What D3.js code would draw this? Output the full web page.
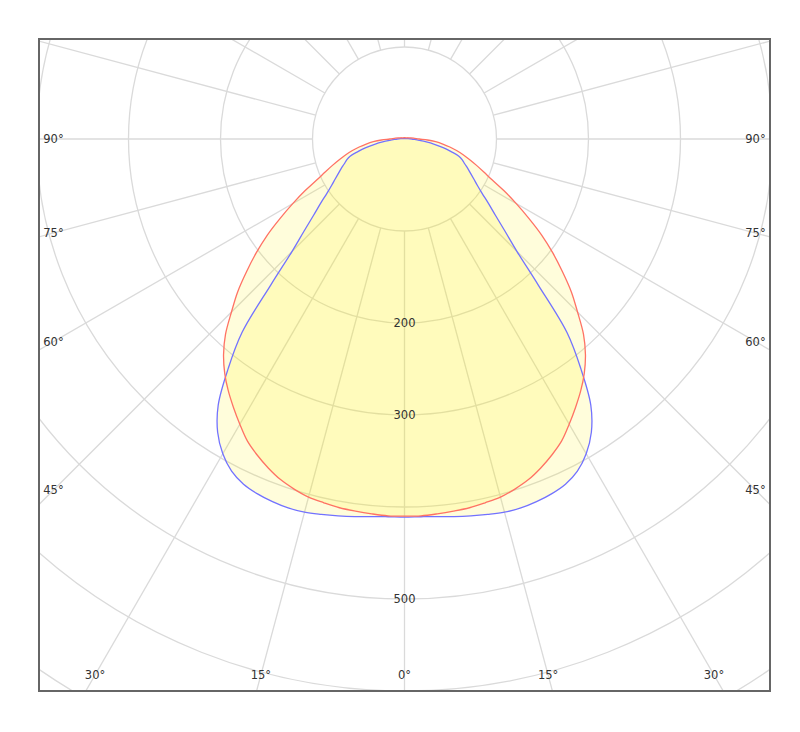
<!DOCTYPE html>
<html>
<head>
<meta charset="utf-8">
<script src="https://cdn.jsdelivr.net/npm/d3@7"></script>
<style>
  body { margin: 0; background: #fff; }
  svg text { font-family: "DejaVu Sans", sans-serif; font-size: 11.5px; fill: #333; }
</style>
</head>
<body>
<div id="chart"></div>
<script>
// gamma angles (deg from nadir) and intensities
const angles = [0, 2.5, 5, 7.5, 10, 12.5, 15, 17.5, 20, 22.5, 25, 27.5, 30, 32.5, 35, 37.5, 40, 42.5, 45, 47.5,
  50, 52.5, 55, 57.5, 60, 62.5, 65, 67.5, 70, 72.5, 75, 77.5, 80, 82.5, 85, 87.5, 90,
  95, 100, 105, 110, 120, 135, 150, 165, 180]
const redValues = [410, 410, 409, 408, 407, 405, 403, 399, 394, 387, 379, 370, 358, 346, 334, 321, 306, 288, 266, 246,
  224, 203, 182, 160, 140, 122, 105, 93, 83, 74, 66, 58, 50, 42, 34, 25, 16,
  10, 7, 5, 4, 2.5, 2, 1.5, 1.5, 1.5]
const blueValues = [411, 411, 412, 414, 416, 418, 420, 420.5, 419.5, 417.5, 414, 407, 395, 378, 353, 315, 275, 215, 173, 148,
  129, 115, 103, 94, 87, 81, 76, 71, 67, 62, 52, 43, 33, 24, 16, 11, 8,
  4, 2, 1.5, 1, 1, 0.5, 0.5, 0.5, 0.5]

const ringValues = [100, 200, 300, 400, 500, 600, 700, 800]
const spokeAngles = [0, 15, 30, 45, 60, 75, 90, 105, 120, 135, 150, 165, 180, 195, 210, 225, 240, 255, 270, 285, 300, 315, 330, 345]
const angleTicks = [0, 15, 30, 45, 60, 75, 90]
const radiusTicks = [200, 300, 500]

document.addEventListener("DOMContentLoaded", () => {
  const config = {
    "w": 800,
    "h": 732,
    "left": 39,
    "top": 39,
    "right": 770,
    "bottom": 691,
    "cx": 404.5,
    "cy": 139,
  }

  const r_scale = d3.scaleLinear()
                    .domain([0, 800])
                    .range([0, 736])

  const svg = d3.select("#chart")
                .append("svg")
                .attr("width", config.w)
                .attr("height", config.h)

  svg.append("clipPath")
     .attr("id", "frame-clip")
     .append("rect")
     .attr("x", config.left)
     .attr("y", config.top)
     .attr("width", config.right - config.left)
     .attr("height", config.bottom - config.top)

  const plot = svg.append("g")
                  .attr("clip-path", "url(#frame-clip)")
  const g = plot.append("g")
                .attr("transform", "translate(" + config.cx + "," + config.cy + ")")

  // grid: rings and spokes (spokes start at the first ring)
  g.selectAll("circle.ring")
   .data(ringValues)
   .enter()
   .append("circle")
   .attr("class", "ring")
   .attr("r", d => r_scale(d))
   .attr("fill", "none")
   .attr("stroke", "#dadada")
   .attr("stroke-width", 1.3)

  g.selectAll("line.spoke")
   .data(spokeAngles)
   .enter()
   .append("line")
   .attr("class", "spoke")
   .attr("x1", d => r_scale(100) * Math.sin(d * Math.PI / 180))
   .attr("y1", d => r_scale(100) * Math.cos(d * Math.PI / 180))
   .attr("x2", d => r_scale(800) * Math.sin(d * Math.PI / 180))
   .attr("y2", d => r_scale(800) * Math.cos(d * Math.PI / 180))
   .attr("stroke", "#dadada")
   .attr("stroke-width", 1.3)

  // mirror one half-plane into a closed loop; d3 angle 0 = up, so nadir = PI
  const toLoop = values => {
    const pts = []
    for (let i = angles.length - 1; i >= 0; i--) {
      pts.push({ a: Math.PI + angles[i] * Math.PI / 180, r: values[i] })
    }
    for (let i = 1; i < angles.length - 1; i++) {
      pts.push({ a: Math.PI - angles[i] * Math.PI / 180, r: values[i] })
    }
    return pts
  }

  const radial = d3.lineRadial()
                   .angle(d => d.a)
                   .radius(d => r_scale(d.r))
                   .curve(d3.curveCatmullRomClosed.alpha(0.5))

  const series = [
    { name: "C90-C270", values: blueValues, stroke: "#7272ff" },
    { name: "C0-C180", values: redValues, stroke: "#ff7264" },
  ]

  g.selectAll("path.fill")
   .data(series)
   .enter()
   .append("path")
   .attr("class", "fill")
   .attr("d", d => radial(toLoop(d.values)))
   .attr("fill", "#fff000")
   .attr("fill-opacity", 0.14)
   .attr("stroke", "none")

  g.selectAll("path.outline")
   .data(series)
   .enter()
   .append("path")
   .attr("class", "outline")
   .attr("d", d => radial(toLoop(d.values)))
   .attr("fill", "none")
   .attr("stroke", d => d.stroke)
   .attr("stroke-width", 1.3)

  // radius labels on the nadir line
  g.selectAll("text.rlabel")
   .data(radiusTicks)
   .enter()
   .append("text")
   .attr("class", "rlabel")
   .attr("x", 0)
   .attr("y", d => r_scale(d))
   .attr("text-anchor", "middle")
   .attr("dominant-baseline", "central")
   .text(d => d)

  // angle labels where each spoke meets the (inset) frame
  const inset = { x0: config.left + 14.5, x1: config.right - 14.5, y1: config.bottom - 16 }
  const labelPos = []
  angleTicks.forEach(t => {
    const sides = t === 0 ? [1] : [-1, 1]
    sides.forEach(s => {
      const sx = s * Math.sin(t * Math.PI / 180)
      const sy = Math.cos(t * Math.PI / 180)
      let dist = Infinity
      if (Math.abs(sx) > 1e-6) {
        dist = Math.min(dist, (sx < 0 ? config.cx - inset.x0 : inset.x1 - config.cx) / Math.abs(sx))
      }
      if (sy > 1e-6) {
        dist = Math.min(dist, (inset.y1 - config.cy) / sy)
      }
      labelPos.push({ t: t, x: config.cx + dist * sx, y: config.cy + dist * sy })
    })
  })

  svg.selectAll("text.alabel")
     .data(labelPos)
     .enter()
     .append("text")
     .attr("class", "alabel")
     .attr("x", d => d.x)
     .attr("y", d => d.y)
     .attr("text-anchor", "middle")
     .attr("dominant-baseline", "central")
     .text(d => d.t + "°")

  svg.append("rect")
     .attr("x", config.left)
     .attr("y", config.top)
     .attr("width", config.right - config.left)
     .attr("height", config.bottom - config.top)
     .attr("fill", "none")
     .attr("stroke", "#666")
     .attr("stroke-width", 2)
})
</script>
</body>
</html>
